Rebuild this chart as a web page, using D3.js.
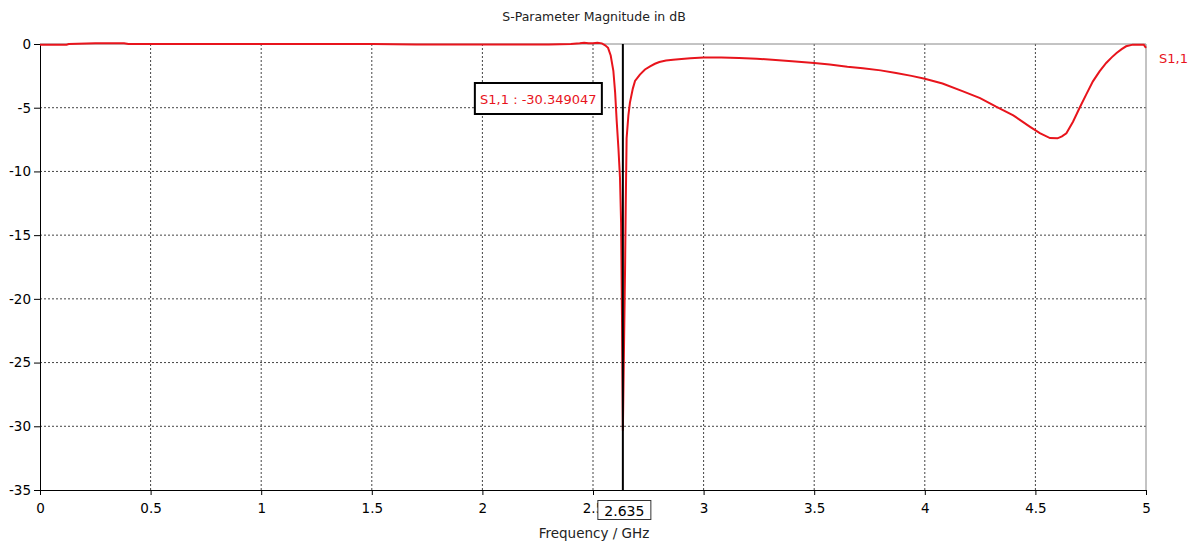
<!DOCTYPE html>
<html>
<head>
<meta charset="utf-8">
<script src="https://cdn.jsdelivr.net/npm/d3@7"></script>
<style>
  body { margin: 0; background: #fff; }
  text { font-family: Tahoma, "DejaVu Sans", sans-serif; font-size: 12px; }
</style>
</head>
<body>
<svg id="chart"></svg>
<script>
const freq = [0, 0.12, 0.13, 0.25, 0.38, 0.40, 1.0, 1.5, 1.7, 2.3, 2.4, 2.44, 2.46, 2.48, 2.5, 2.52, 2.54,
  2.555, 2.568, 2.58, 2.592, 2.6, 2.607, 2.615, 2.622, 2.627, 2.631, 2.635, 2.64, 2.645, 2.648, 2.652,
  2.66, 2.667, 2.68, 2.69, 2.712, 2.735, 2.758, 2.78, 2.8, 2.83, 2.862, 2.9, 2.94, 3.0, 3.08, 3.16,
  3.24, 3.31, 3.4, 3.5, 3.57, 3.65, 3.72, 3.8, 3.87, 3.94, 4.0, 4.08, 4.17, 4.25, 4.32, 4.4, 4.476,
  4.52, 4.566, 4.6, 4.62, 4.64, 4.67, 4.7, 4.73, 4.76, 4.79, 4.82, 4.845, 4.867, 4.89, 4.91, 4.94, 4.99, 5.0];
const s11 = [-0.05, -0.05, 0, 0.05, 0.05, 0, 0, 0, -0.03, -0.03, 0, 0.05, 0.1, 0.05, 0.05, 0.1, 0.05,
  -0.1, -0.3, -0.9, -2.1, -3.8, -6.0, -8.2, -10.5, -14, -21.3, -30.349, -24, -17.6, -12.6, -7.4,
  -5.6, -4.6, -3.5, -2.9, -2.4, -2.0, -1.75, -1.55, -1.41, -1.3, -1.23, -1.18, -1.12, -1.05, -1.05, -1.1,
  -1.16, -1.23, -1.35, -1.49, -1.6, -1.78, -1.9, -2.07, -2.28, -2.5, -2.72, -3.1, -3.7, -4.25, -4.9, -5.6, -6.5,
  -7.0, -7.38, -7.4, -7.25, -7.0, -6.1, -5.0, -3.95, -2.93, -2.15, -1.49, -1.05, -0.7, -0.4, -0.18, -0.05, -0.05, -0.3];
const xTicks = [0, 0.5, 1, 1.5, 2, 2.5, 3, 3.5, 4, 4.5, 5];
const yTicks = [0, -5, -10, -15, -20, -25, -30, -35];
const markerFreq = 2.635;
const markerValue = -30.349047;

const W = 1198, H = 543;
const red = "#e8141c";
const svg = d3.select("#chart").attr("width", W).attr("height", H);

const x = d3.scaleLinear().domain([0, 5]).range([40, 1146]);
const y = d3.scaleLinear().domain([-35, 0]).range([490, 44]);

// grid
svg.append("g")
  .selectAll("line")
  .data(xTicks.slice(1, -1))
  .enter()
  .append("line")
  .attr("x1", d => x(d)).attr("x2", d => x(d))
  .attr("y1", y(0)).attr("y2", y(-35))
  .attr("stroke", "#444").attr("stroke-dasharray", "2,2");

svg.append("g")
  .selectAll("line")
  .data(yTicks.slice(1, -1))
  .enter()
  .append("line")
  .attr("x1", x(0)).attr("x2", x(5))
  .attr("y1", d => y(d)).attr("y2", d => y(d))
  .attr("stroke", "#444").attr("stroke-dasharray", "2,2");

// top and right frame
svg.append("path")
  .attr("d", `M${x(0)},${y(0)}H${x(5)}V${y(-35)}`)
  .attr("fill", "none").attr("stroke", "#888");

// axes
const xAxis = svg.append("g")
  .attr("transform", `translate(0,${y(-35)})`)
  .call(d3.axisBottom(x).tickValues(xTicks).tickSize(5).tickPadding(8).tickFormat(d3.format("")));
const yAxis = svg.append("g")
  .attr("transform", `translate(${x(0)},0)`)
  .call(d3.axisLeft(y).tickValues(yTicks).tickSize(6).tickPadding(3).tickFormat(d => d === 0 ? "0" : "-" + Math.abs(d)));
[xAxis, yAxis].forEach(a => {
  a.select(".domain").attr("stroke", "#000");
  a.selectAll("text").style("font-size", "13.5px").attr("fill", "#000");
});

// curve
const line = d3.line().x((d, i) => x(freq[i])).y(d => y(d));
svg.append("path")
  .datum(s11)
  .attr("d", line)
  .attr("fill", "none")
  .attr("stroke", red)
  .attr("stroke-width", 2);

// marker
svg.append("line")
  .attr("x1", x(markerFreq)).attr("x2", x(markerFreq))
  .attr("y1", y(0)).attr("y2", y(-35))
  .attr("stroke", "#000").attr("stroke-width", 2);

svg.append("rect")
  .attr("x", x(markerFreq) - 148).attr("y", 83)
  .attr("width", 127).attr("height", 31)
  .attr("fill", "#fff").attr("stroke", "#000").attr("stroke-width", 2);
svg.append("text")
  .attr("x", x(markerFreq) - 84.5).attr("y", 103.5)
  .attr("text-anchor", "middle").attr("fill", red)
  .style("font-size", "13px")
  .text(`S1,1 : ${markerValue}`);

svg.append("rect")
  .attr("x", x(markerFreq) - 25).attr("y", 500.5)
  .attr("width", 53).attr("height", 19)
  .attr("fill", "#fff").attr("stroke", "#333");
svg.append("text")
  .attr("x", x(markerFreq) + 1.5).attr("y", 515.5)
  .attr("text-anchor", "middle").attr("fill", "#000")
  .style("font-size", "14px")
  .text(markerFreq);

// titles and legend
svg.append("text")
  .attr("x", 594).attr("y", 21)
  .attr("text-anchor", "middle").attr("fill", "#222")
  .style("font-size", "12.5px")
  .text("S-Parameter Magnitude in dB");
svg.append("text")
  .attr("x", 594).attr("y", 538)
  .attr("text-anchor", "middle").attr("fill", "#222")
  .style("font-size", "13.5px")
  .text("Frequency / GHz");
svg.append("text")
  .attr("x", 1159).attr("y", 63)
  .attr("fill", red)
  .style("font-size", "13px")
  .text("S1,1");
</script>
</body>
</html>
